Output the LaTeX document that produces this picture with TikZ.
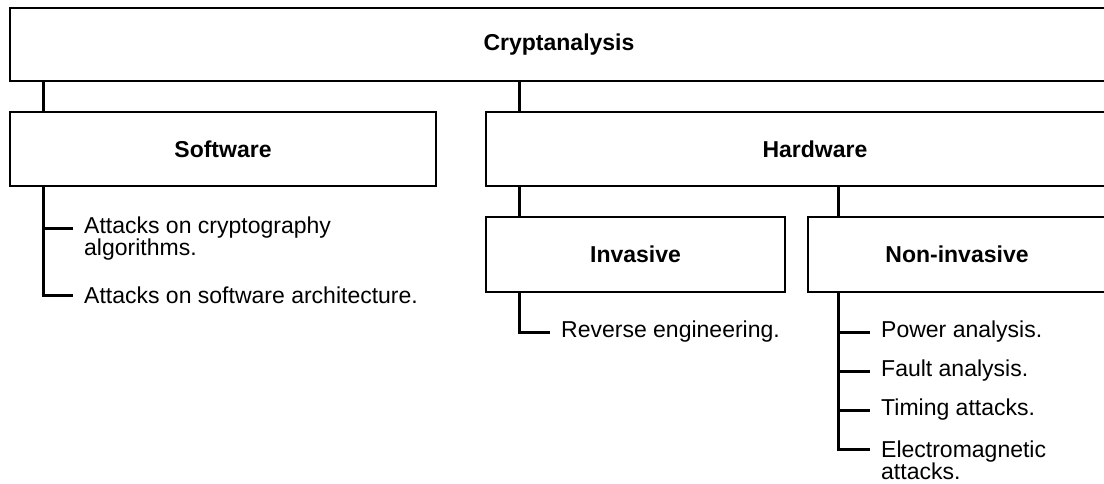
\documentclass[tikz,border=0pt]{standalone}
\usepackage{fontspec}
\setmainfont{Liberation Sans}
\begin{document}
\begin{tikzpicture}[x=1pt,y=-1pt,
  box/.style={draw, line width=1.8pt, inner sep=0pt, font=\fontsize{23}{26}\selectfont\bfseries},
  leaf/.style={anchor=west, inner xsep=11pt, inner ysep=0pt, align=left, font=\fontsize{23}{22}\selectfont},
  conn/.style={line width=3pt}]
\useasboundingbox (0,0) rectangle (1104,483);
\clip (0,0) rectangle (1104,483);
% boxes
\node[box, minimum width=1098pt, minimum height=73pt] (top) at (559,44.5) {Cryptanalysis};
\node[box, minimum width=426pt, minimum height=74pt] (sw) at (223,149) {Software};
\node[box, minimum width=658pt, minimum height=74pt] (hw) at (815,149) {Hardware};
\node[box, minimum width=299pt, minimum height=75pt] (inv) at (635.5,254.5) {Invasive};
\node[box, minimum width=298pt, minimum height=75pt] (ninv) at (957,254.5) {Non-invasive};
% stem positions
\coordinate (swx) at (43,0);
\coordinate (hwx) at (519,0);
\coordinate (nix) at (838,0);
% leaves
\node[leaf] (s1) at (73,239) {Attacks on cryptography\\algorithms.};
\node[leaf] (s2) at (73,295) {Attacks on software architecture.};
\node[leaf] (i1) at (550,332) {Reverse engineering.};
\node[leaf] (n1) at (870,332) {Power analysis.};
\node[leaf] (n2) at (870,371) {Fault analysis.};
\node[leaf] (n3) at (870,410) {Timing attacks.};
\node[leaf] (n4) at (870,460) {Electromagnetic\\attacks.};
% connectors
\draw[conn] (top.south -| swx) -- (sw.north -| swx);
\draw[conn] (top.south -| hwx) -- (hw.north -| hwx);
\draw[conn] (hw.south -| hwx) -- (inv.north -| hwx);
\draw[conn] (hw.south -| nix) -- (ninv.north -| nix);
\draw[conn] (sw.south -| swx) |- ([yshift=11pt]s1.west);
\draw[conn] (sw.south -| swx) |- (s2.west);
\draw[conn] (inv.south -| hwx) |- (i1.west);
\draw[conn] (ninv.south -| nix) |- (n1.west);
\draw[conn] (ninv.south -| nix) |- (n2.west);
\draw[conn] (ninv.south -| nix) |- (n3.west);
\draw[conn] (ninv.south -| nix) |- ([yshift=11pt]n4.west);
\end{tikzpicture}
\end{document}
